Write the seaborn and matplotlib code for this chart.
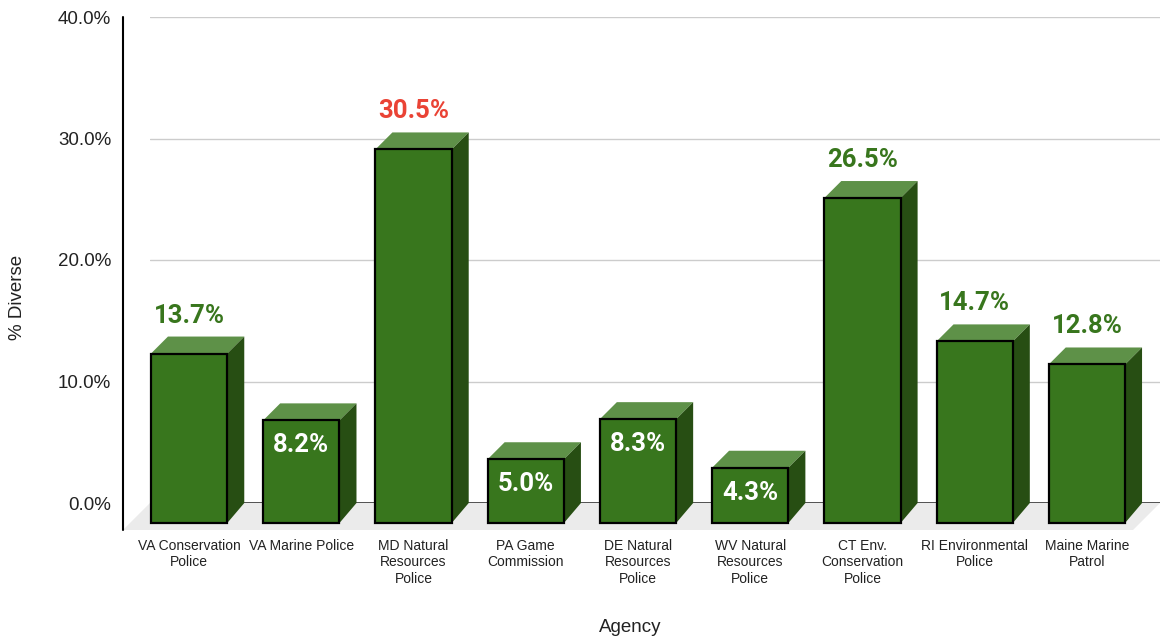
import matplotlib

matplotlib.use("Agg")
import matplotlib.pyplot as plt
import seaborn as sns
from matplotlib.patches import Polygon

# Data
agencies = [
    "VA Conservation\nPolice",
    "VA Marine Police",
    "MD Natural\nResources\nPolice",
    "PA Game\nCommission",
    "DE Natural\nResources\nPolice",
    "WV Natural\nResources\nPolice",
    "CT Env.\nConservation\nPolice",
    "RI Environmental\nPolice",
    "Maine Marine\nPatrol",
]
pct_diverse = [13.7, 8.2, 30.5, 5.0, 8.3, 4.3, 26.5, 14.7, 12.8]
y_ticks = [0, 10, 20, 30, 40]

FRONT = "#38761d"
TOP = "#5e9148"
SIDE = "#274e13"
LABEL_GREEN = "#38761d"
LABEL_RED = "#ea4335"

W, H = 1160, 641
fig = plt.figure(figsize=(W / 100, H / 100), dpi=100)
sns.set_style("white")
plt.rcParams["font.family"] = ["Liberation Sans", "DejaVu Sans"]

# back plane of the chart in pixels
left, right, top, bottom = 150, 1160, 17, 503
ax = fig.add_axes([left / W, 1 - bottom / H, (right - left) / W, (bottom - top) / H])
ax.set_xlim(-0.5, len(agencies) - 0.5)
ax.set_ylim(0, 40)

# pixel -> data conversion for the 3D depth offsets
px_x = (len(agencies)) / (right - left)
px_y = 40 / (bottom - top)
DX, DY = 17 * px_x, 17 * px_y      # bar depth
FX, FY = 27 * px_x, 27 * px_y      # floor depth

x0, x1 = ax.get_xlim()

# floor
ax.add_patch(Polygon([(x0, 0), (x1, 0), (x1 - FX, -FY), (x0 - FX, -FY)],
                     closed=True, facecolor="#ebebeb", edgecolor="none",
                     clip_on=False, zorder=0))

# gridlines
for t in y_ticks:
    ax.axhline(t, color="#333333" if t == 0 else "#cccccc", lw=1.2 if t == 0 else 1, zorder=1)

# vertical axis line
ax.plot([x0 - FX, x0 - FX], [40, -FY], color="black", lw=1.5, clip_on=False, zorder=2)

sns.barplot(x=list(range(len(agencies))), y=pct_diverse, color=FRONT, width=0.68,
            edgecolor="black", linewidth=1.6, saturation=1, ax=ax, zorder=3)

for p in list(ax.patches):
    if p.get_zorder() != 3:
        continue
    bx, bw, bh = p.get_x(), p.get_width(), p.get_height()
    # shift the front face towards the viewer
    p.set_x(bx - DX)
    p.set_y(-DY - 3 * px_y)
    p.set_height(bh + 3 * px_y)
    p.set_clip_on(False)
    p.set_zorder(5)
    ax.add_patch(Polygon([(bx - DX, bh - DY), (bx + bw - DX, bh - DY), (bx + bw, bh), (bx, bh)],
                         closed=True, facecolor=TOP, edgecolor="none", clip_on=False, zorder=4))
    ax.add_patch(Polygon([(bx + bw - DX, bh - DY), (bx + bw, bh), (bx + bw, 0),
                          (bx + bw - DX, -DY - 3 * px_y)],
                         closed=True, facecolor=SIDE, edgecolor="none", clip_on=False, zorder=4))

# value labels
vmax = max(pct_diverse)
for i, v in enumerate(pct_diverse):
    cx = i - DX
    if v < 10:
        ax.text(cx, v - 42 * px_y, f"{v:.1f}%", ha="center", va="center", color="white",
                fontsize=18.5, fontweight="bold", family=["Roboto", "DejaVu Sans"], zorder=6)
    else:
        ax.text(cx, v + 21 * px_y, f"{v:.1f}%", ha="center", va="center",
                color=LABEL_RED if v == vmax else LABEL_GREEN,
                fontsize=18.5, fontweight="bold", family=["Roboto", "DejaVu Sans"], zorder=6)

ax.set_xticks([i - DX for i in range(len(agencies))])
ax.set_xticklabels(agencies, fontsize=10, color="#222222", linespacing=1.2)
ax.set_yticks(y_ticks)
ax.set_yticklabels([f"{t:.1f}%" for t in y_ticks], fontsize=13.5, color="#222222")
ax.tick_params(axis="x", length=0, pad=26)
ax.tick_params(axis="y", length=0, pad=28)
ax.set_xlabel("")
ax.set_ylabel("")
for s in ax.spines.values():
    s.set_visible(False)

fig.text(18 / W, 1 - 297 / H, "% Diverse", rotation=90, ha="center", va="center",
         fontsize=13.5, color="#222222")
fig.text(630 / W, 1 - 627 / H, "Agency", ha="center", va="center",
         fontsize=13.5, color="#222222")

fig.savefig("out.png", dpi=100)
